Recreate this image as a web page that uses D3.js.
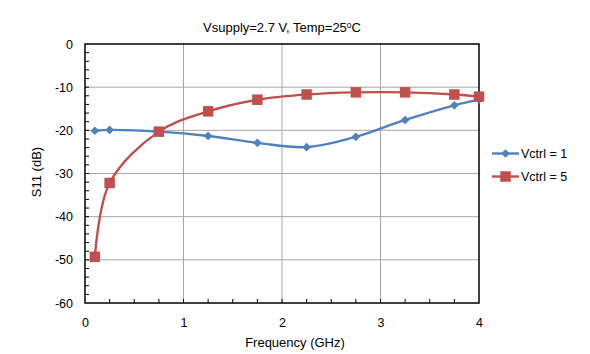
<!DOCTYPE html>
<html>
<head>
<meta charset="utf-8">
<script src="https://cdn.jsdelivr.net/npm/d3@7"></script>
<style>
  body { margin: 0; background: #fff; }
  text { font-family: "Liberation Sans", Arial, sans-serif; fill: #000; }
</style>
</head>
<body>
<svg width="590" height="354"></svg>
<script>
// chart data
const freq = [0.1, 0.25, 0.75, 1.25, 1.75, 2.25, 2.75, 3.25, 3.75, 4.0];
const vctrl1 = [-20.1, -19.9, -20.3, -21.3, -22.9, -23.9, -21.5, -17.6, -14.2, -12.9];
const vctrl5 = [-49.3, -32.2, -20.3, -15.6, -12.9, -11.7, -11.2, -11.2, -11.7, -12.2];
const xTicks = [0, 1, 2, 3, 4];
const yTicks = [0, -10, -20, -30, -40, -50, -60];

const svg = d3.select("svg");
const plotL = 85, plotR = 479, plotT = 44, plotB = 303;

// scales
const x = d3.scaleLinear().domain([0, 4]).range([plotL, plotR]);
const y = d3.scaleLinear().domain([-60, 0]).range([plotB, plotT]);

// grid lines
svg.append("g").selectAll("line")
  .data(xTicks.slice(1, -1)).enter().append("line")
  .attr("x1", d => x(d)).attr("x2", d => x(d))
  .attr("y1", plotT).attr("y2", plotB)
  .attr("stroke", "#a6a6a6").attr("stroke-width", 1);
svg.append("g").selectAll("line")
  .data(yTicks.slice(1, -1)).enter().append("line")
  .attr("x1", plotL).attr("x2", plotR)
  .attr("y1", d => y(d)).attr("y2", d => y(d))
  .attr("stroke", "#a6a6a6").attr("stroke-width", 1);

// minor ticks, inside the plot
svg.append("g").selectAll("line")
  .data(d3.range(0.25, 4, 0.25)).enter().append("line")
  .attr("x1", d => x(d)).attr("x2", d => x(d))
  .attr("y1", plotB).attr("y2", plotB - 4)
  .attr("stroke", "#000");
svg.append("g").selectAll("line")
  .data(d3.range(-58, 0, 2)).enter().append("line")
  .attr("x1", plotL).attr("x2", plotL + 4)
  .attr("y1", d => y(d)).attr("y2", d => y(d))
  .attr("stroke", "#000");

// plot border
svg.append("rect")
  .attr("x", plotL).attr("y", plotT)
  .attr("width", plotR - plotL).attr("height", plotB - plotT)
  .attr("fill", "none").attr("stroke", "#000").attr("stroke-width", 1.5);

// tick labels through d3 axes (plain hyphen minus like the original)
const xAxis = svg.append("g")
  .attr("transform", `translate(0,${plotB})`)
  .call(d3.axisBottom(x).tickValues(xTicks).tickFormat(d => String(d)).tickSize(0).tickPadding(15));
xAxis.select(".domain").remove();
xAxis.selectAll("text").style("font-size", "12.5px").style("font-family", "Liberation Sans, Arial, sans-serif");

const yAxis = svg.append("g")
  .attr("transform", `translate(${plotL},0)`)
  .call(d3.axisLeft(y).tickValues(yTicks).tickFormat(d => String(d)).tickSize(0).tickPadding(12));
yAxis.select(".domain").remove();
yAxis.selectAll("text").style("font-size", "12.5px").style("font-family", "Liberation Sans, Arial, sans-serif");

// series
const series = [
  { name: "Vctrl = 1", values: vctrl1, color: "#4f81bd", shape: d3.symbolDiamond2, size: 48 },
  { name: "Vctrl = 5", values: vctrl5, color: "#c0504d", shape: d3.symbolSquare, size: 110 }
];

const line = d3.line()
  .x(d => x(d[0])).y(d => y(d[1]))
  .curve(d3.curveCatmullRom.alpha(0.5));

series.forEach(s => {
  const pts = freq.map((f, i) => [f, s.values[i]]);
  svg.append("path")
    .datum(pts)
    .attr("d", line)
    .attr("fill", "none")
    .attr("stroke", s.color)
    .attr("stroke-width", 2.4);
  svg.append("g").selectAll("path")
    .data(pts).enter().append("path")
    .attr("d", d3.symbol().type(s.shape).size(s.size))
    .attr("transform", d => `translate(${x(d[0])},${y(d[1])})`)
    .attr("fill", s.color);
});

// legend
series.forEach((s, i) => {
  const ly = 153.5 + i * 23;
  svg.append("line")
    .attr("x1", 492).attr("x2", 519)
    .attr("y1", ly).attr("y2", ly)
    .attr("stroke", s.color).attr("stroke-width", 2.4);
  svg.append("path")
    .attr("d", d3.symbol().type(s.shape).size(s.size))
    .attr("transform", `translate(505.5,${ly})`)
    .attr("fill", s.color);
  svg.append("text")
    .attr("x", 521).attr("y", ly + 4.5)
    .style("font-size", "12.5px")
    .text(s.name);
});

// title
const title = svg.append("text")
  .attr("x", 282).attr("y", 32)
  .attr("text-anchor", "middle")
  .style("font-size", "13px")
  .text("Vsupply=2.7 V, Temp=25");
title.append("tspan").attr("dy", -4).style("font-size", "8.5px").text("o");
title.append("tspan").attr("dy", 4).text("C");

// axis titles
svg.append("text")
  .attr("x", 295).attr("y", 347)
  .attr("text-anchor", "middle")
  .style("font-size", "13px")
  .text("Frequency (GHz)");

svg.append("text")
  .attr("transform", "translate(41,172) rotate(-90)")
  .attr("text-anchor", "middle")
  .style("font-size", "13px")
  .text("S11 (dB)");
</script>
</body>
</html>
